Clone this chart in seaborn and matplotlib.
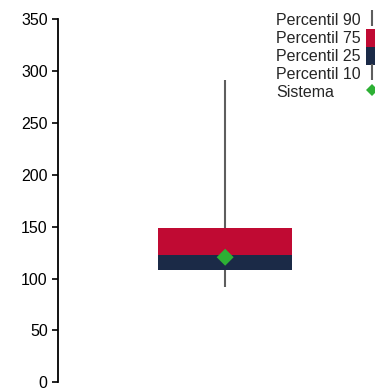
import numpy as np
import matplotlib
matplotlib.use("Agg")
import matplotlib.pyplot as plt
import seaborn as sns
from matplotlib.lines import Line2D
from matplotlib.patches import Patch

# values
p10 = 92
p25 = 108.5
p50 = 122.5
p75 = 148.5
p90 = 291
sistema = 120.5

legend_labels = ["Percentil 90", "Percentil 75", "Percentil 25", "Percentil 10", "Sistema"]

red = "#C00A33"
navy = "#1B2A47"
grey = "#5E5E5E"
green = "#2DB034"

sns.set_style("ticks")
plt.rcParams["font.family"] = ["Liberation Sans", "DejaVu Sans"]

fig = plt.figure(figsize=(3.75, 3.89), dpi=100)
ax = fig.add_axes([0.155, 0.0172, 0.845, 0.934])

x = 0
# whisker
ax.vlines(x, p10, p90, color=grey, linewidth=1.5, zorder=1)
# box: lower (navy) and upper (red) parts
ax.bar(x, p50 - p25, bottom=p25, width=0.6, color=navy, linewidth=0, zorder=2)
ax.bar(x, p75 - p50, bottom=p50, width=0.6, color=red, linewidth=0, zorder=2)
# system value
sns.scatterplot(x=[x], y=[sistema], marker="D", s=75, color=green,
                edgecolor="none", zorder=3, ax=ax, legend=False)

ax.set_xlim(-0.748, 0.671)
ax.set_ylim(0, 350)
ax.set_yticks(np.arange(0, 351, 50))
ax.set_xticks([])
ax.tick_params(axis="y", labelsize=11.5, length=4, width=1.2, colors="black")
sns.despine(ax=ax, bottom=True)
ax.spines["left"].set_linewidth(1.3)
ax.spines["left"].set_color("black")

handles = [
    Line2D([], [], marker="|", linestyle="none", color=grey, markersize=11.5, markeredgewidth=1.5),
    Patch(facecolor=red, edgecolor="none"),
    Patch(facecolor=navy, edgecolor="none"),
    Line2D([], [], marker="|", linestyle="none", color=grey, markersize=11.5, markeredgewidth=1.5),
    Line2D([], [], marker="D", linestyle="none", color=green, markersize=6, markeredgewidth=0),
]
blank = [Line2D([], [], linestyle="none") for _ in legend_labels]

common = dict(loc="upper left", frameon=False, fontsize=11.5, borderpad=0,
              borderaxespad=0, handleheight=1.36, labelspacing=0.0)
# labels (left aligned) and symbols drawn as two legends side by side
leg_text = fig.legend(blank, legend_labels, bbox_to_anchor=(0.736, 0.972),
                      handlelength=0, handletextpad=0, **common)
fig.legend(handles, [""] * len(handles), bbox_to_anchor=(0.975, 0.972),
           handlelength=0.8, handletextpad=0, **common)

fig.savefig("out.png", dpi=100)
